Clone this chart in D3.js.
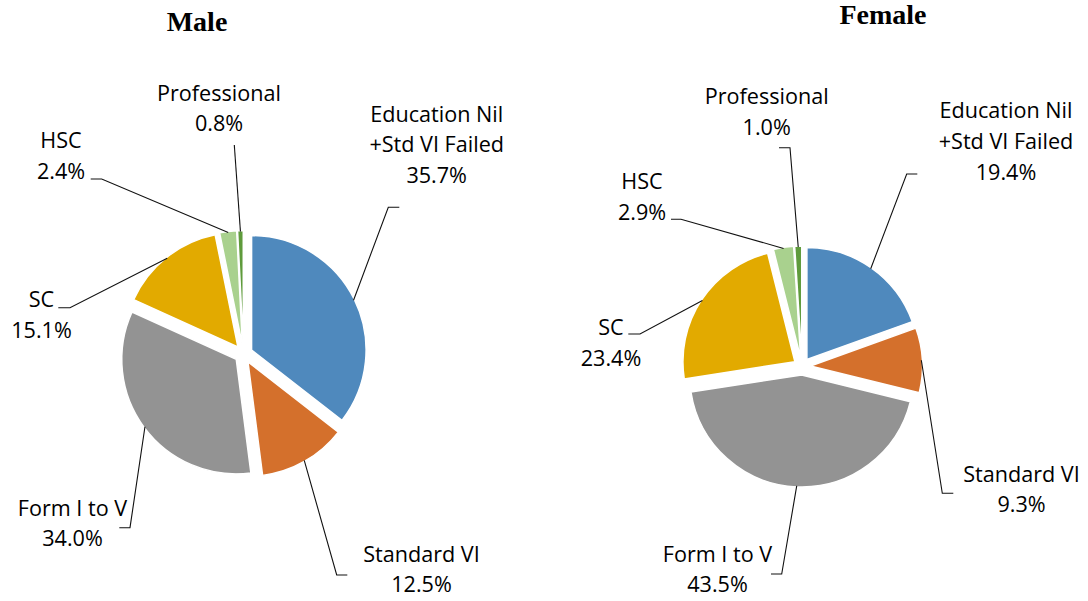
<!DOCTYPE html>
<html>
<head>
<meta charset="utf-8">
<script src="https://cdn.jsdelivr.net/npm/d3@7"></script>
<style>
  html, body { margin: 0; padding: 0; background: #ffffff; }
  svg { display: block; }
</style>
</head>
<body>
<svg id="chart" width="1088" height="601"></svg>
<script>
// ---- data ----
const categories = ["Education Nil\n+Std VI Failed", "Standard VI", "Form I to V", "SC", "HSC", "Professional"];
const maleValues = [35.7, 12.5, 34.0, 15.1, 2.4, 0.8];
const femaleValues = [19.4, 9.3, 43.5, 23.4, 2.9, 1.0];
const chartTitles = ["Male", "Female"];
const sliceColors = ["#4f89bd", "#d4702c", "#939393", "#e2aa00", "#a9d18e", "#5f9b3c"];

// ---- layout (positions only) ----
const layouts = [
  {
    title: { x: 197, y: 31 },
    center: [243.5, 354], radius: 114.5, explode: 9,
    labels: [
      { cx: 436.7, y: 121.5, tick: [399.3, 388.3, 207.3] },
      { cx: 421.5, y: 561.7, tick: [347.3, 336.7, 575] },
      { cx: 72.5,  y: 515.7, tick: [119.3, 130, 527.7] },
      { cx: 41.5,  y: 307.3, tick: [58.3, 70, 307.7] },
      { cx: 61,    y: 148.3, tick: [90.7, 101.7, 179] },
      { cx: 219,   y: 100.7, tick: [234.3, 234.3, 145] }
    ]
  },
  {
    title: { x: 883, y: 24 },
    center: [802, 366.5], radius: 112, explode: 8.5,
    labels: [
      { cx: 1006,  y: 118.3, tick: [917.3, 906.7, 174] },
      { cx: 1021.5, y: 481.7, tick: [953.3, 942.3, 493.3] },
      { cx: 717.5, y: 561.7, tick: [771, 781.7, 574] },
      { cx: 611,   y: 335,   tick: [628.3, 640, 334] },
      { cx: 642,   y: 189,   tick: [671, 681, 219.3] },
      { cx: 766.7, y: 104,   tick: [779, 790, 147.7] }
    ]
  }
];

const svg = d3.select("#chart");
const color = d3.scaleOrdinal().domain(categories).range(sliceColors);
const pie = d3.pie().sort(null).value(d => d.value);
const lineGap = 30.7;

[maleValues, femaleValues].forEach((vals, ci) => {
  const L = layouts[ci];
  const data = categories.map((c, i) => ({ cat: c, value: vals[i], idx: i }));
  const arcs = pie(data);
  const arc = d3.arc().innerRadius(0).outerRadius(L.radius);
  const g = svg.append("g").attr("transform", `translate(${L.center[0]},${L.center[1]})`);

  const dir = a => [Math.sin(a), -Math.cos(a)];

  g.selectAll("path.slice")
    .data(arcs)
    .join("path")
    .attr("class", "slice")
    .attr("d", arc)
    .attr("transform", d => {
      const m = (d.startAngle + d.endAngle) / 2;
      const [dx, dy] = dir(m);
      return `translate(${dx * L.explode},${dy * L.explode})`;
    })
    .attr("fill", d => color(d.data.cat))
    .attr("stroke", "#ffffff")
    .attr("stroke-width", 1.5)
    .attr("stroke-linejoin", "round");

  // leader lines
  arcs.forEach((d, i) => {
    const lab = L.labels[i];
    const m = (d.startAngle + d.endAngle) / 2;
    const [dx, dy] = dir(m);
    const rr = L.radius + L.explode - 1;
    const px = L.center[0] + dx * rr;
    const py = L.center[1] + dy * rr;
    const pts = [[lab.tick[0], lab.tick[2]], [lab.tick[1], lab.tick[2]], [px, py]];
    svg.append("path")
      .attr("d", d3.line()(pts))
      .attr("fill", "none")
      .attr("stroke", "#111")
      .attr("stroke-width", 1.1);

    const lines = d.data.cat.split("\n").concat([d3.format(".1f")(d.data.value) + "%"]);
    const t = svg.append("text")
      .attr("text-anchor", "middle")
      .attr("font-family", "'Open Sans', 'Noto Sans', sans-serif")
      .attr("font-size", 21.6)
      .attr("fill", "#000");
    lines.forEach((s, k) => {
      t.append("tspan").attr("x", lab.cx).attr("y", lab.y + k * lineGap).text(s);
    });
  });

  svg.append("text")
    .attr("x", L.title.x)
    .attr("y", L.title.y)
    .attr("text-anchor", "middle")
    .attr("font-family", "'Liberation Serif', 'Times New Roman', serif")
    .attr("font-weight", "bold")
    .attr("font-size", 28)
    .attr("fill", "#000")
    .text(chartTitles[ci]);
});
</script>
</body>
</html>
